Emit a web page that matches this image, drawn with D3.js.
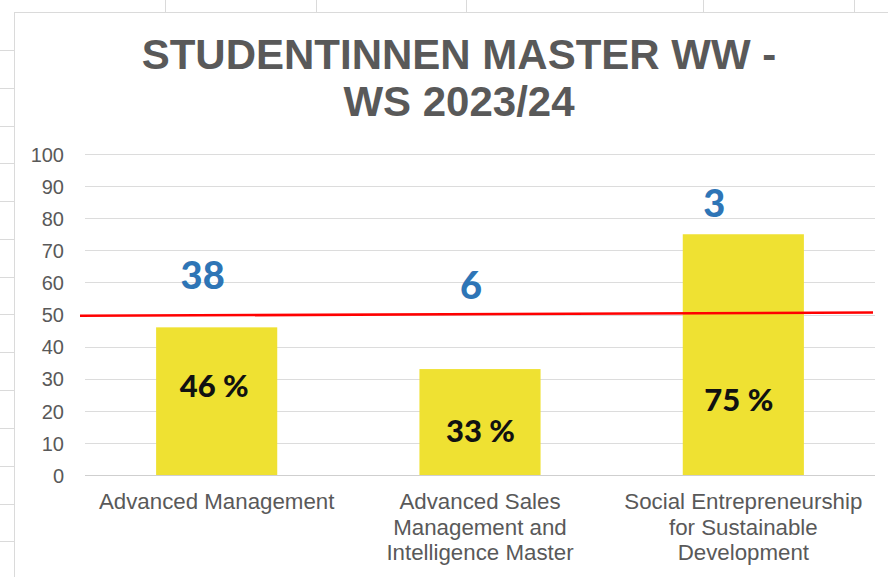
<!DOCTYPE html>
<html>
<head>
<meta charset="utf-8">
<script src="https://cdn.jsdelivr.net/npm/d3@7"></script>
<style>
  html, body { margin: 0; padding: 0; background: #fff; }
  svg { display: block; }
</style>
</head>
<body>
<svg id="chart" width="888" height="577"></svg>
<script>
// Programme names (one entry per wrapped line)
const categories = [
  ["Advanced Management"],
  ["Advanced Sales", "Management and", "Intelligence Master"],
  ["Social Entrepreneurship", "for Sustainable", "Development"]
];
const programmeKeys = ["AM", "ASMIM", "SESD"];
// Share of female students, percent
const femaleShare = [46, 33, 75];
// Number of female students
const femaleCount = [38, 6, 3];
// Value axis ticks
const yTicks = [0, 10, 20, 30, 40, 50, 60, 70, 80, 90, 100];
// Target reference (drawn by hand, slight tilt from left to right end)
const targetLine = [49.6, 50.6];

const titleLines = ["STUDENTINNEN MASTER WW -", "WS 2023/24"];

// Free-floating label placement (dx in px from band centre, v in axis units for baseline)
const countLabelPos = [{ dx: -14, v: 57.8 }, { dx: -9, v: 54.7 }, { dx: -29, v: 80.5 }];
const shareLabelPos = [{ dx: -2.5, v: 24.2 }, { dx: 0.5, v: 10.4 }, { dx: -4.5, v: 20.0 }];

// Worksheet cell lines around the chart object
const sheetColEdges = [165, 316, 466, 703, 854];
const sheetRowEdges = [50, 88, 126, 163, 201, 239, 277, 314, 352, 390, 428, 466, 504, 541];

const svg = d3.select("#chart");
const W = 888, H = 577;
const grey = "#595959";

// Worksheet background stubs and chart-object border
const sheet = svg.append("g").attr("stroke", "#dadada").attr("stroke-width", 1);
sheet.selectAll("line.col").data(sheetColEdges).join("line")
  .attr("x1", d => d + 0.5).attr("x2", d => d + 0.5).attr("y1", 0).attr("y2", 12);
sheet.selectAll("line.row").data(sheetRowEdges).join("line")
  .attr("x1", 0).attr("x2", 14).attr("y1", d => d + 0.5).attr("y2", d => d + 0.5);
sheet.append("line").attr("x1", 14).attr("x2", W).attr("y1", 12.5).attr("y2", 12.5);
sheet.append("line").attr("x1", 14.5).attr("x2", 14.5).attr("y1", 12).attr("y2", H);

const plot = { left: 85, right: 875, top: 154, bottom: 475 };

const x = d3.scaleBand()
  .domain(programmeKeys)
  .range([plot.left, plot.right])
  .paddingInner(0.54)
  .paddingOuter(0.27);
const xc = d3.scaleBand().domain(programmeKeys).range([plot.left, plot.right]).padding(0);

const y = d3.scaleLinear().domain([0, 100]).range([plot.bottom, plot.top]);

// Title
svg.append("g").selectAll("text").data(titleLines).join("text")
  .attr("x", 459)
  .attr("y", (d, i) => 68.5 + i * 47)
  .attr("text-anchor", "middle")
  .attr("font-family", "'Liberation Sans', Arial, sans-serif")
  .attr("font-weight", "bold")
  .attr("font-size", 42)
  .attr("fill", grey)
  .text(d => d);

// Gridlines
svg.append("g").selectAll("line").data(yTicks).join("line")
  .attr("x1", plot.left).attr("x2", plot.right)
  .attr("y1", d => Math.round(y(d)) + 0.5).attr("y2", d => Math.round(y(d)) + 0.5)
  .attr("stroke", d => d === 0 ? "#cfcfcf" : "#dcdcdc")
  .attr("stroke-width", 1);

// Y axis labels
const yAxis = d3.axisLeft(y).tickValues(yTicks).tickSize(0).tickPadding(0);
const yg = svg.append("g").attr("transform", "translate(64,0)").call(yAxis);
yg.select(".domain").remove();
yg.selectAll("text")
  .attr("font-family", "'Liberation Sans', Arial, sans-serif")
  .attr("font-size", 20)
  .attr("fill", grey)
  .attr("dy", "0.36em");

// Bars
const rows = programmeKeys.map((k, i) => ({
  key: k, lines: categories[i], share: femaleShare[i], count: femaleCount[i],
  cl: countLabelPos[i], sl: shareLabelPos[i]
}));

svg.append("g").selectAll("rect").data(rows).join("rect")
  .attr("x", d => x(d.key))
  .attr("width", x.bandwidth())
  .attr("y", d => y(d.share))
  .attr("height", d => y(0) - y(d.share))
  .attr("fill", "#EFE132");

// Target line
svg.append("line")
  .attr("x1", 80).attr("x2", 873)
  .attr("y1", y(targetLine[0])).attr("y2", y(targetLine[1]))
  .attr("stroke", "#FF0000")
  .attr("stroke-width", 2.6);

// Category labels
const cat = svg.append("g").selectAll("text").data(rows).join("text")
  .attr("text-anchor", "middle")
  .attr("font-family", "'Liberation Sans', Arial, sans-serif")
  .attr("font-size", 22.3)
  .attr("fill", grey);
cat.selectAll("tspan").data(d => d.lines.map(l => ({ l, key: d.key }))).join("tspan")
  .attr("x", d => xc(d.key) + xc.bandwidth() / 2)
  .attr("y", (d, i) => 509 + i * 25.5)
  .text(d => d.l);

// Share labels inside bars
svg.append("g").selectAll("text").data(rows).join("text")
  .attr("x", d => xc(d.key) + xc.bandwidth() / 2 + d.sl.dx)
  .attr("y", d => y(d.sl.v))
  .attr("text-anchor", "middle")
  .attr("font-family", "Lato, 'Open Sans', sans-serif")
  .attr("font-weight", "900")
  .attr("font-size", 31)
  .attr("fill", "#111")
  .text(d => d.share + " %");

// Student counts
svg.append("g").selectAll("text").data(rows).join("text")
  .attr("x", d => xc(d.key) + xc.bandwidth() / 2 + d.cl.dx)
  .attr("y", d => y(d.cl.v))
  .attr("text-anchor", "middle")
  .attr("font-family", "Lato, 'Open Sans', sans-serif")
  .attr("font-weight", "900")
  .attr("font-size", 38)
  .attr("fill", "#2E75B6")
  .text(d => d.count);
</script>
</body>
</html>
